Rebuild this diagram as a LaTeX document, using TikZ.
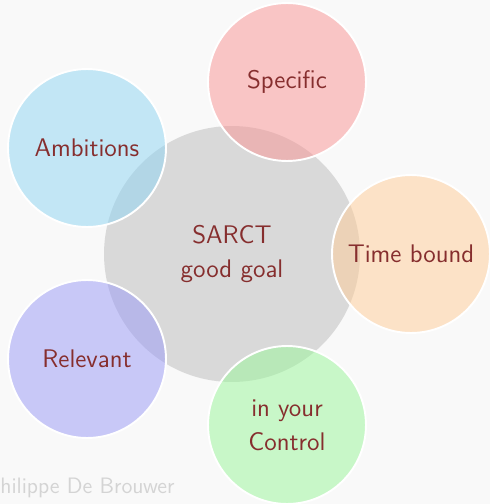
\documentclass[tikz,border=0pt]{standalone}
\usepackage{tikz}
\definecolor{bgGrey}{RGB}{249,249,249}
\definecolor{hubGrey}{RGB}{217,217,217}
\definecolor{goalRed}{RGB}{134,46,46}
\definecolor{markGrey}{RGB}{212,212,212}
\definecolor{sRed}{RGB}{249,147,147}
\definecolor{tOrange}{RGB}{255,205,150}
\definecolor{cGreen}{RGB}{153,247,153}
\definecolor{rBlue}{RGB}{153,153,247}
\definecolor{aCyan}{RGB}{141,213,243}

\begin{document}
\begin{tikzpicture}[x=0.02cm,y=-0.02cm,
  hub/.style={circle,fill=hubGrey,minimum size=5.12cm,inner sep=0pt,align=center,
              font=\sffamily\fontsize{14.5}{19.5}\selectfont,text=goalRed},
  bubble/.style={circle,draw=white,line width=1.1pt,fill opacity=.5,text opacity=1,
                 minimum size=3.16cm,inner sep=0pt,align=center,
                 font=\sffamily\fontsize{14.5}{19.5}\selectfont,text=goalRed},
  credit/.style={anchor=base west,inner sep=0pt,text=markGrey,font=\sffamily\fontsize{12.7}{14}\selectfont}
]
  \useasboundingbox (0,0) rectangle (490,504);
  \clip (0,0) rectangle (490,504);
  \fill[bgGrey] (0,0) rectangle (490,504);

  \node[hub](goal) at (232,254) {SARCT\\good goal};
  \node[bubble,fill=sRed](spec)    at (287,82)  {Specific};
  \node[bubble,fill=tOrange](time) at (411,254) {Time bound};
  \node[bubble,fill=cGreen](ctrl)  at (287,425) {in your\\Control};
  \node[bubble,fill=rBlue](rel)    at (87,359)  {Relevant};
  \node[bubble,fill=aCyan](amb)    at (87,148)  {Ambitions};

  \node[credit](author) at (0,493) {hilippe De Brouwer};
\end{tikzpicture}
\end{document}
